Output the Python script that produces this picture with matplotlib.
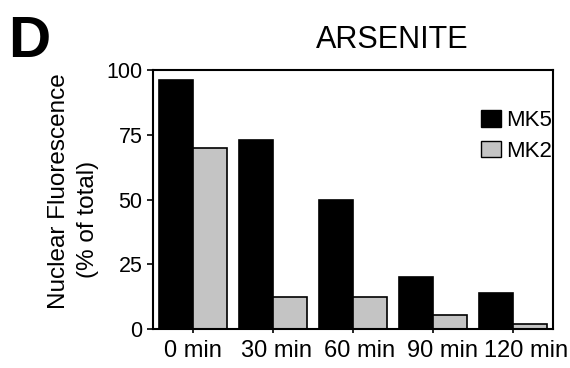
import numpy as np
import matplotlib
matplotlib.use("Agg")
import matplotlib.pyplot as plt
import matplotlib.transforms as mtransforms
from matplotlib.patches import Patch

plt.rcParams['font.family'] = ['Liberation Sans', 'DejaVu Sans']

# data
times = ["0 min", "30 min", "60 min", "90 min", "120 min"]
mk5 = [96, 73, 50, 20, 14]
mk2 = [70, 12.5, 12.5, 5.5, 2]
y_ticks = [0, 25, 50, 75, 100]

fig = plt.figure(figsize=(5.7, 3.68), dpi=100)
# axes box: x 153..553 px, y 70..329 px
ax = fig.add_axes([153 / 570, 1 - 329 / 368, 400 / 570, 259 / 368])

x = np.arange(len(times))
w = 0.42
ax.bar(x, mk5, width=-w, align='edge', color='black', edgecolor='black', linewidth=1.2)
ax.bar(x, mk2, width=w, align='edge', color='#c4c4c4', edgecolor='black', linewidth=1.2)

ax.set_xlim(-0.5, len(times) - 0.5)
ax.set_ylim(0, 100)
ax.set_yticks(y_ticks)
ax.set_xticks(x)
ax.set_xticklabels(times, fontsize=17)
ax.tick_params(axis='y', labelsize=15.5, length=4.5, width=1.2, pad=3)
ax.tick_params(axis='x', length=3, width=1.2, pad=5)
for s in ax.spines.values():
    s.set_linewidth(1.5)

# in the original the time labels drift a bit to the right of their ticks
for i, lab in enumerate(ax.get_xticklabels()):
    off = mtransforms.ScaledTranslation(3.2 * i / 100, 0, fig.dpi_scale_trans)
    lab.set_transform(lab.get_transform() + off)

handles = [Patch(facecolor='black', edgecolor='black', label='MK5'),
           Patch(facecolor='#c4c4c4', edgecolor='black', label='MK2')]
leg = ax.legend(handles=handles, loc='upper left', bbox_to_anchor=(0.82, 0.845),
                frameon=False, fontsize=16, handlelength=0.9, handleheight=0.77,
                handletextpad=0.22, borderpad=0, borderaxespad=0, labelspacing=0.42)

fig.text(0.688, 1 - 48 / 368, "ARSENITE", fontsize=22, ha='center', va='baseline')
fig.text(0.014, 1 - 57 / 368, "D", fontsize=42, fontweight='bold', ha='left', va='baseline')
fig.text(59 / 570, 1 - 191 / 368, "Nuclear Fluorescence", fontsize=17.5, rotation=90,
         ha='center', va='center')
fig.text(88 / 570, 1 - 219 / 368, "(% of total)", fontsize=17.5, rotation=90,
         ha='center', va='center')

fig.savefig("out.png", dpi=100)
